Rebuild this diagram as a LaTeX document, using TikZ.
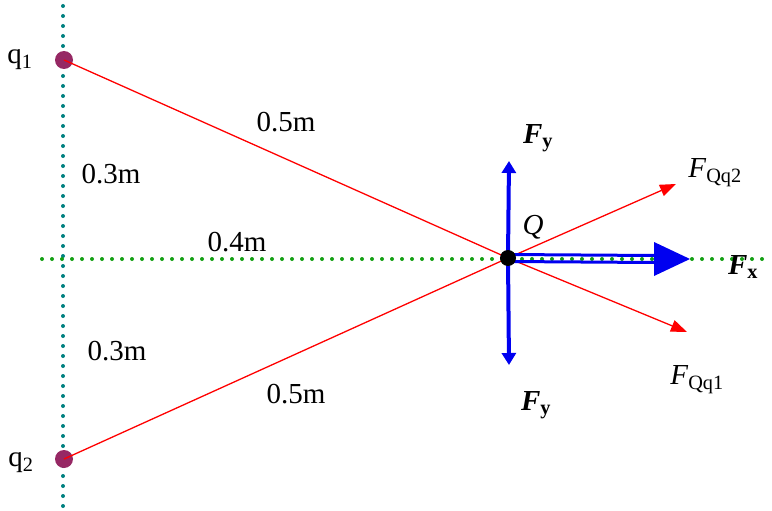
\documentclass[tikz,border=0pt]{standalone}
\usepackage{fontspec}
\setmainfont{Liberation Serif}
\usetikzlibrary{arrows.meta}
\definecolor{charge}{RGB}{150,40,100}
\definecolor{tealdot}{RGB}{0,128,128}
\definecolor{greendot}{RGB}{20,160,20}
\definecolor{fblue}{RGB}{0,0,240}
\begin{document}
\begin{tikzpicture}[x=1pt,y=-1pt,
  lbl/.style={inner sep=0pt,font=\fontsize{29}{34}\selectfont},
  chargedot/.style={circle,fill=charge,minimum size=18pt,inner sep=0pt},
  qdot/.style={circle,fill=black,minimum size=16pt,inner sep=0pt},
  axisdots/.style={line width=4pt,dash pattern=on 0pt off 10pt,line cap=round},
  redvec/.style={red,line width=1.3pt,-{Triangle[length=16pt,width=12pt]}},
  redline/.style={red,line width=1.3pt},
  bluevec/.style={fblue,line width=4pt,-{Triangle[length=12pt,width=14pt]}}]
\useasboundingbox (0,0) rectangle (772,511);
% axes
\coordinate (vtop) at (63,6);
\coordinate (vbot) at (63,511);
\coordinate (hl) at (42,259);
\coordinate (hr) at (772,259);
\draw[tealdot,axisdots] (vtop) -- (vbot);
\draw[greendot,axisdots] (hl) -- (hr);
% nodes
\node[chargedot] (q1) at (64,60) {};
\node[chargedot] (q2) at (64,459) {};
\coordinate (Qc) at (508,258);
% lines to Q
\draw[redline] (q1.center) -- (Qc);
\draw[redline] (q2.center) -- (Qc);
% force vectors
\coordinate (tq2) at (676,184);
\coordinate (tq1) at (687,332);
\coordinate (tyu) at (509,161);
\coordinate (tyd) at (509,365);
\coordinate (xb) at (654,259);
\coordinate (tx) at (690,259);
\draw[redvec] (Qc) -- (tq2);
\draw[redvec] (Qc) -- (tq1);
\draw[bluevec] (Qc) -- (tyu);
\draw[bluevec] (Qc) -- (tyd);
\draw[fblue,line width=3pt] ([yshift=-3.5pt]Qc) -- ([yshift=-3.5pt]xb);
\draw[fblue,line width=3pt] ([yshift=3.5pt]Qc) -- ([yshift=3.5pt]xb);
\fill[fblue] ([yshift=-17pt]xb) -- (tx) -- ([yshift=17pt]xb) -- cycle;
\node[qdot] (Q) at (Qc) {};
% labels
\node[lbl] (lq1) at (20,60) {q\textsubscript{1}};
\node[lbl] (lq2) at (21,463) {q\textsubscript{2}};
\node[lbl] (d1) at (286,122) {0.5m};
\node[lbl] (d2) at (111,174) {0.3m};
\node[lbl] (d3) at (237,242) {0.4m};
\node[lbl] (d4) at (117,351) {0.3m};
\node[lbl] (d5) at (296,394) {0.5m};
\node[lbl] (lQ) at (533,227) {\textit{Q}};
\node[lbl] (lfyu) at (538,138) {\textbf{\textit{F}}\textsubscript{\textbf{y}}};
\node[lbl] (lfyd) at (536,405) {\textbf{\textit{F}}\textsubscript{\textbf{y}}};
\node[lbl] (lfx) at (743,267) {\textbf{\textit{F}}\textsubscript{\textbf{x}}};
\node[lbl] (lf2) at (715,173) {\textit{F}\textsubscript{Qq2}};
\node[lbl] (lf1) at (697,380) {\textit{F}\textsubscript{Qq1}};
\end{tikzpicture}
\end{document}
